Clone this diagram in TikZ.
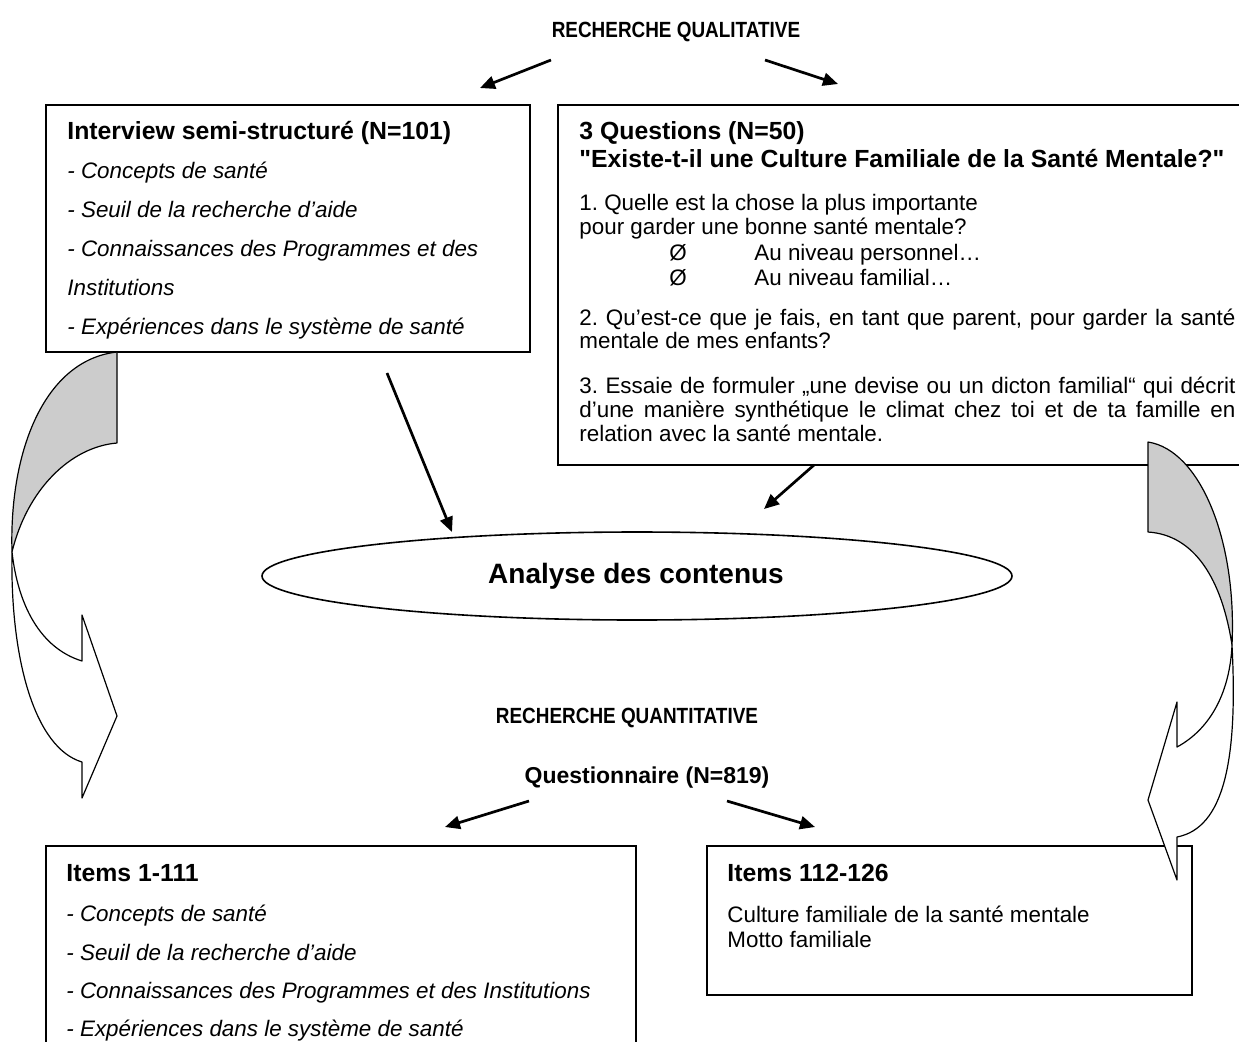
\documentclass[tikz,border=0pt]{standalone}
\usepackage{fontspec}
\setmainfont{Liberation Sans}[Ligatures=TeXOff]
\usetikzlibrary{arrows.meta,shapes.geometric}
\definecolor{bandgray}{RGB}{204,204,204}
\tikzset{
  frame/.style={draw=black, line width=0.8pt, fill=white, inner sep=0pt},
  conn/.style={draw=black, line width=1.35pt, -{Triangle[length=7.5pt,width=6.5pt]}},
  body/.style={anchor=base west, inner sep=0pt, font=\fontsize{11.2pt}{13pt}\selectfont},
  bodyit/.style={anchor=base west, inner sep=0pt, font=\fontsize{11.2pt}{13pt}\selectfont\itshape},
  head/.style={anchor=base west, inner sep=0pt, font=\fontsize{12.4pt}{15pt}\selectfont\bfseries},
  maintitle/.style={anchor=base, inner sep=0pt, font=\fontsize{11pt}{13pt}\selectfont\bfseries},
  bandback/.style={draw=black, line width=0.6pt, fill=bandgray, line join=round},
  bandfront/.style={draw=black, line width=0.6pt, fill=white, line join=round},
}
\begin{document}
\frenchspacing
\begin{tikzpicture}[x=0.5pt,y=-0.5pt]
\useasboundingbox (0,0) rectangle (1239,1041);
\clip (0,0) rectangle (1239,1041);
\fill[white] (0,0) rectangle (1239,1041);

% boxes
\node[frame, minimum width=242pt, minimum height=123.5pt] (box1) at (288,228.5) {};
\node[frame, minimum width=351pt, minimum height=180pt] (box2) at (909,285) {};
\node[frame, minimum width=295pt, minimum height=127pt] (box3) at (341,973) {};
\node[frame, minimum width=242.5pt, minimum height=74.5pt] (box4) at (949.5,920.5) {};
\node[frame, ellipse, minimum width=375pt, minimum height=44pt] (ell) at (637,576) {};
\node[inner sep=0pt, font=\fontsize{14pt}{16pt}\selectfont\bfseries] (elltext) at (636,576) {Analyse des contenus};

% titles
\node[maintitle] (t1) at (676,37) {\scalebox{0.86}[1]{RECHERCHE QUALITATIVE}};
\node[maintitle] (t2) at (627,723) {\scalebox{0.86}[1]{RECHERCHE QUANTITATIVE}};
\node[anchor=base, inner sep=0pt, font=\fontsize{11.5pt}{14pt}\selectfont\bfseries] (t3) at (647,783) {Questionnaire (N=819)};

% box 1
\node[head] (b1h) at (67,139) {Interview semi-structuré (N=101)};
\node[bodyit] (b1a) at (67,178) {- Concepts de santé};
\node[bodyit] (b1b) at (67,217) {- Seuil de la recherche d’aide};
\node[bodyit] (b1c) at (67,256) {- Connaissances des Programmes et des};
\node[bodyit] (b1d) at (67,295) {Institutions};
\node[bodyit] (b1e) at (67,334) {- Expériences dans le système de santé};

% box 2
\node[head] (b2h) at (579,139) {3 Questions (N=50)};
\node[head] (b2s) at (579,167) {"Existe-t-il une Culture Familiale de la Santé Mentale?"};
\node[body] (q1a) at (579,210) {1. Quelle est la chose la plus importante};
\node[body] (q1b) at (579,234) {pour garder une bonne santé mentale?};
\node[body] (q1c) at (669,260) {Ø};
\node[body] (q1d) at (754,260) {Au niveau personnel…};
\node[body] (q1e) at (669,285) {Ø};
\node[body] (q1f) at (754,285) {Au niveau familial…};
\node[body] (q2a) at (579,325) {\makebox[328pt][s]{2. Qu’est-ce que je fais, en tant que parent, pour garder la santé}};
\node[body] (q2b) at (579,348) {mentale de mes enfants?};
\node[body] (q3a) at (579,393) {\makebox[328pt][s]{3. Essaie de formuler „une devise ou un dicton familial“ qui décrit}};
\node[body] (q3b) at (579,417) {\makebox[328pt][s]{d’une manière synthétique le climat chez toi et de ta famille en}};
\node[body] (q3c) at (579,441) {relation avec la santé mentale.};

% box 3
\node[head] (b3h) at (66,881) {Items 1-111};
\node[bodyit] (b3a) at (66,921) {- Concepts de santé};
\node[bodyit] (b3b) at (66,960) {- Seuil de la recherche d’aide};
\node[bodyit] (b3c) at (66,998) {- Connaissances des Programmes et des Institutions};
\node[bodyit] (b3d) at (66,1036) {- Expériences dans le système de santé};

% box 4
\node[head] (b4h) at (727,881) {Items 112-126};
\node[body] (b4a) at (727,922) {Culture familiale de la santé mentale};
\node[body] (b4b) at (727,947) {Motto familiale};

% straight connectors
\coordinate (a1s) at (551,60);  \coordinate (a1e) at (480,88);
\coordinate (a2s) at (765,60);  \coordinate (a2e) at (838,84);
\coordinate (a3s) at (387,373); \coordinate (a3e) at (452,532);
\coordinate (a4s) at (814,465); \coordinate (a4e) at (764,509);
\coordinate (a5s) at (529,801); \coordinate (a5e) at (445,827);
\coordinate (a6s) at (727,801); \coordinate (a6e) at (815,827);
\draw[conn] (a1s) -- (a1e);
\draw[conn] (a2s) -- (a2e);
\draw[conn] (a3s) -- (a3e);
\draw[conn] (a4s) -- (a4e);
\draw[conn] (a5s) -- (a5e);
\draw[conn] (a6s) -- (a6e);

% left curved arrow
\draw[bandback] (117,352) .. controls (45,360) and (9,450) .. (12,552)
  .. controls (27,490) and (70,447) .. (117,443) -- cycle;
\draw[bandfront] (12,552) .. controls (10,660) and (35,748) .. (82,762)
  -- (82,798) -- (117,716) -- (82,615) -- (82,661)
  .. controls (40,648) and (18,605) .. (12,552) -- cycle;

% right curved arrow
\draw[bandback] (1148,442) .. controls (1200,450) and (1237,540) .. (1232,645)
  .. controls (1222,580) and (1195,535) .. (1148,532) -- cycle;
\draw[bandfront] (1232,645) .. controls (1238,760) and (1224,828) .. (1177,837)
  -- (1177,880) -- (1148,800) -- (1177,702) -- (1177,747)
  .. controls (1212,728) and (1230,690) .. (1232,645) -- cycle;
\end{tikzpicture}
\end{document}
